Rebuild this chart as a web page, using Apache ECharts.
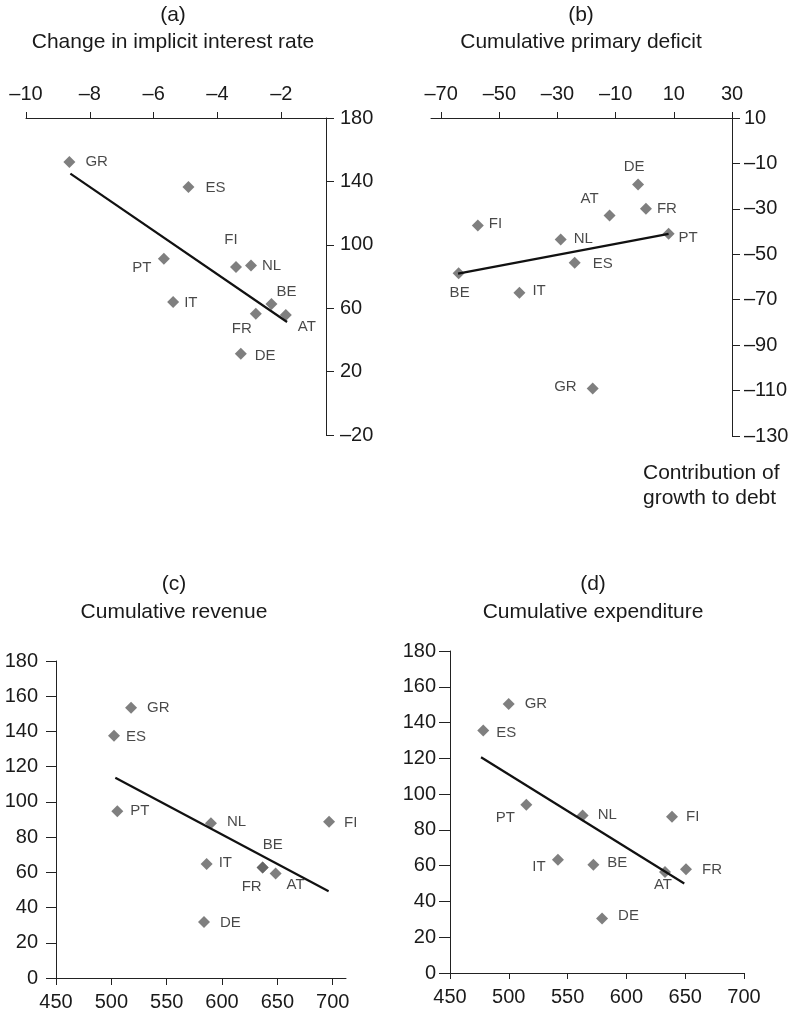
<!DOCTYPE html>
<html><head><meta charset="utf-8">
<script src="https://cdn.jsdelivr.net/npm/echarts@6/dist/echarts.min.js"></script>
<style>html,body{margin:0;padding:0;background:#fff}#c{width:798px;height:1017px}</style>
</head><body><div id="c"></div>
<script>
// ---------- DATA ----------
// Panel (a): change in implicit interest rate vs debt change
const namesA = ['GR','ES','FI','NL','PT','IT','BE','FR','AT','DE'];
const rateChangeA = [-8.64,-4.91,-3.42,-2.95,-5.68,-5.39,-2.31,-2.80,-1.86,-3.27];
const debtA = [152.2,136.5,86.0,87.0,91.2,63.9,62.6,56.5,55.7,31.3];
const trendA = [[-8.61,144.9],[-1.82,51.3]];
const xTicksA = [-10,-8,-6,-4,-2];

// Panel (b): cumulative primary deficit vs contribution of growth to debt
const namesB = ['DE','AT','FR','FI','NL','PT','ES','BE','IT','GR'];
const primaryDeficitB = [-2.3,-12.1,0.4,-57.4,-28.9,8.2,-24.1,-64.0,-43.1,-17.9];
const growthContribB = [-19.3,-32.9,-30.0,-37.3,-43.5,-41.0,-53.7,-58.4,-66.9,-109.1];
const trendB = [[-64.2,-58.5],[8.2,-41.0]];
const xTicksB = [-70,-50,-30,-10,10,30];

// Panel (c): cumulative revenue vs debt change
const namesC = ['GR','ES','PT','NL','FI','IT','FR','AT','BE','DE'];
const revenueC = [517.8,502.4,505.4,590.0,696.7,586.1,636.7,648.4,636.7,583.7];
const debtC = [153.5,137.5,94.7,87.9,88.7,64.8,62.7,59.3,62.7,31.8];
const trendC = [[503.6,113.7],[696.3,49.3]];
const xTicksC = [450,500,550,600,650,700];

// Panel (d): cumulative expenditure vs debt change
const namesD = ['GR','ES','PT','NL','FI','IT','BE','AT','FR','DE'];
const expenditureD = [499.9,478.3,514.9,562.8,638.8,541.8,571.9,632.8,650.7,579.3];
const debtD = [150.4,135.5,94.0,88.0,87.3,63.3,60.5,56.4,58.0,30.5];
const trendD = [[476.4,120.6],[649.2,50.0]];

// ---------- LABEL PLACEMENT (style, not data) ----------
// [position, dx, dy]
const labelPlaceA = {GR:['right',5,0],ES:['right',6,1],FI:['inside',-5,-27],NL:['right',0,0],
  PT:['inside',-22,9],IT:['right',0,1],BE:['inside',15,-12],FR:['inside',-14,15],AT:['inside',21,12],DE:['right',3,2]};
const labelPlaceB = {DE:['inside',-4,-18],AT:['inside',-20,-17],FR:['right',0,0],FI:['right',0,-2],
  NL:['right',2,-1],PT:['right',-1,4],ES:['right',7,1],BE:['inside',1,19],IT:['right',2,-2],GR:['left',-5,-2]};
const labelPlaceC = {GR:['right',5,0],ES:['right',1,1],PT:['right',2,0],NL:['right',5,-1],FI:['right',4,1],
  IT:['right',1,-1],FR:['inside',-11,19],AT:['inside',20,11],BE:['inside',10,-23],DE:['right',5,1]};
const labelPlaceD = {GR:['right',5,0],ES:['right',2,2],PT:['inside',-21,13],NL:['right',4,-1],FI:['right',3,0],
  IT:['inside',-19,7],BE:['right',3,-2],AT:['inside',-2,13],FR:['right',5,1],DE:['right',5,-3]};

const FONT = 'Liberation Sans, Arial, Helvetica, sans-serif';
const AX = '#222';
const TXT = '#1a1a1a';
const fmt = v => String(v).replace('-', '\u2013');

function scatterSeries(gi, names, xs, ys, place) {
  return {
    type: 'scatter', xAxisIndex: gi, yAxisIndex: gi,
    symbol: 'diamond', symbolSize: 12,
    itemStyle: { color: '#5f5f5f' },
    z: 2,
    data: names.map((n, i) => {
      const p = place[n];
      return {
        name: n, value: [xs[i], ys[i]],
        label: { show: true, position: p[0], distance: 5, offset: [p[1], p[2]],
          formatter: '{b}', fontSize: 15, color: TXT, fontFamily: FONT }
      };
    })
  };
}
function trendSeries(gi, pts) {
  return { type: 'line', xAxisIndex: gi, yAxisIndex: gi, data: pts, symbol: 'none',
    lineStyle: { color: '#111', width: 2.2 }, z: 3, silent: true };
}
function axisBase(extra) {
  return Object.assign({
    type: 'value',
    axisLine: { show: true, onZero: false, lineStyle: { color: AX, width: 1 } },
    splitLine: { show: false },
  }, extra);
}

const option = {
  animation: false,
  textStyle: { fontFamily: FONT },
  grid: [
    { left: 26, top: 118, width: 300, height: 317, outerBoundsMode: 'none' },
    { left: 431, top: 118, width: 301, height: 318, outerBoundsMode: 'none' },
    { left: 56, top: 661, width: 290, height: 317, outerBoundsMode: 'none' },
    { left: 450, top: 651, width: 294, height: 322, outerBoundsMode: 'none' }
  ],
  xAxis: [
    axisBase({ gridIndex: 0, position: 'top', min: -10, max: -0.6,
      axisTick: { show: true, length: 6, customValues: xTicksA, lineStyle: { color: AX } },
      axisLabel: { customValues: xTicksA, formatter: fmt, fontSize: 20, color: TXT, margin: 14 } }),
    axisBase({ gridIndex: 1, position: 'top', min: -73.5, max: 30,
      axisTick: { show: true, length: 6, customValues: xTicksB, lineStyle: { color: AX } },
      axisLabel: { customValues: xTicksB, formatter: fmt, fontSize: 20, color: TXT, margin: 14 } }),
    axisBase({ gridIndex: 2, position: 'bottom', min: 450, max: 712,
      axisTick: { show: true, length: 7, customValues: xTicksC, lineStyle: { color: AX } },
      axisLabel: { customValues: xTicksC, fontSize: 20, color: TXT, margin: 14 } }),
    axisBase({ gridIndex: 3, position: 'bottom', min: 450, max: 700, interval: 50,
      axisTick: { show: true, length: 6, lineStyle: { color: AX } },
      axisLabel: { fontSize: 20, color: TXT, margin: 14 } })
  ],
  yAxis: [
    axisBase({ gridIndex: 0, position: 'right', min: -20, max: 180, interval: 40,
      axisTick: { show: true, length: 8, lineStyle: { color: AX } },
      axisLabel: { formatter: fmt, fontSize: 20, color: TXT, margin: 14 } }),
    axisBase({ gridIndex: 1, position: 'right', min: -130, max: 10, interval: 20,
      axisTick: { show: true, length: 8, lineStyle: { color: AX } },
      axisLabel: { formatter: fmt, fontSize: 20, color: TXT, margin: 12 } }),
    axisBase({ gridIndex: 2, position: 'left', min: 0, max: 180, interval: 20,
      axisTick: { show: true, length: 10, lineStyle: { color: AX } },
      axisLabel: { fontSize: 20, color: TXT, margin: 18 } }),
    axisBase({ gridIndex: 3, position: 'left', min: 0, max: 180, interval: 20,
      axisTick: { show: true, length: 11, lineStyle: { color: AX } },
      axisLabel: { fontSize: 20, color: TXT, margin: 14 } })
  ],
  series: [
    scatterSeries(0, namesA, rateChangeA, debtA, labelPlaceA), trendSeries(0, trendA),
    scatterSeries(1, namesB, primaryDeficitB, growthContribB, labelPlaceB), trendSeries(1, trendB),
    scatterSeries(2, namesC, revenueC, debtC, labelPlaceC), trendSeries(2, trendC),
    scatterSeries(3, namesD, expenditureD, debtD, labelPlaceD), trendSeries(3, trendD)
  ],
  graphic: [
    ['(a)', 173, 15, 'center'], ['Change in implicit interest rate', 173, 42, 'center'],
    ['(b)', 581, 15, 'center'], ['Cumulative primary deficit', 581, 42, 'center'],
    ['(c)', 174, 584, 'center'], ['Cumulative revenue', 174, 612, 'center'],
    ['(d)', 593, 584, 'center'], ['Cumulative expenditure', 593, 612, 'center'],
    ['Contribution of', 643, 473, 'left'], ['growth to debt', 643, 498, 'left']
  ].map(t => ({ type: 'text', x: t[1], y: t[2],
    style: { text: t[0], fontSize: 21, fill: TXT, fontFamily: FONT, textAlign: t[3], textVerticalAlign: 'middle' } }))
};
const chart = echarts.init(document.getElementById('c'), null, { renderer: 'canvas' });
chart.setOption(option);
</script></body></html>
